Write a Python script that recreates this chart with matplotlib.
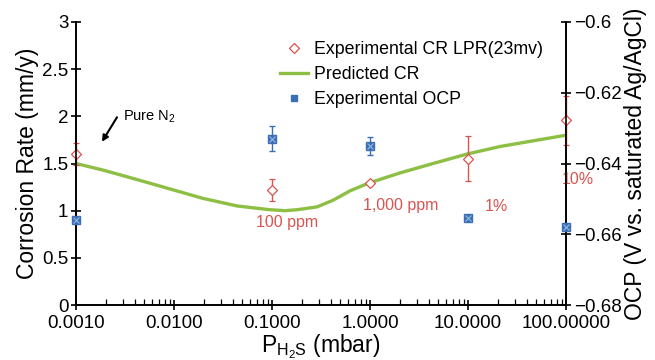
import numpy as np
import matplotlib
matplotlib.use('Agg')
import matplotlib.pyplot as plt
from matplotlib.ticker import FixedLocator, FixedFormatter, LogLocator, NullFormatter

plt.rcParams['font.family'] = ['Liberation Sans', 'DejaVu Sans']
plt.rcParams['mathtext.fontset'] = 'custom'
plt.rcParams['mathtext.rm'] = 'Liberation Sans'
plt.rcParams['mathtext.it'] = 'Liberation Sans'

### Data
p_exp = [0.001, 0.1, 1.0, 10.0, 100.0]
cr_lpr = [1.60, 1.22, 1.29, 1.55, 1.96]
cr_err = [0.12, 0.12, 0.02, 0.24, 0.26]
ocp = [-0.656, -0.633, -0.635, -0.6554, -0.658]
ocp_err = [0.0008, 0.0035, 0.0025, 0.0008, 0.0008]

p_pred = [0.001, 0.00189, 0.00419, 0.0091, 0.0198, 0.044, 0.095, 0.136, 0.180,
          0.288, 0.419, 0.625, 0.955, 2.02, 4.40, 9.77, 21.2, 46.0, 100.0]
cr_pred = [1.50, 1.43, 1.33, 1.23, 1.13, 1.05, 1.01, 1.00, 1.01,
           1.04, 1.11, 1.21, 1.29, 1.40, 1.50, 1.60, 1.68, 1.74, 1.80]

xticks = [0.001, 0.01, 0.1, 1, 10, 100]
xlabels = ['0.0010', '0.0100', '0.1000', '1.0000', '10.0000', '100.00000']

red = '#d9534f'
blue = '#3a6eb5'
green = '#8dbf45'

fig = plt.figure(figsize=(6.55, 3.6), dpi=100)
ax = fig.add_axes([76/655, 55/360, 490/655, 283/360])
ax2 = ax.twinx()

ax.plot(p_pred, cr_pred, color=green, lw=2.4, label='Predicted CR', zorder=2)
ax.errorbar(p_exp, cr_lpr, yerr=cr_err, fmt='D', ms=5, mfc='white', mec=red, mew=0.9,
            ecolor=red, elinewidth=1.0, capsize=2, capthick=1.0, zorder=3, clip_on=False)
ax2.errorbar(p_exp, ocp, yerr=ocp_err, fmt='s', ms=5.5, color=blue, mec=blue,
             ecolor=blue, elinewidth=1.0, capsize=2, capthick=1.0, zorder=3, clip_on=False)
ax2.plot(p_exp, ocp, 'x', ms=4, color='#9ab8e0', mew=0.8, zorder=4, clip_on=False)

ax.set_xscale('log')
ax.set_xlim(0.001, 100)
ax.set_ylim(0, 3)
ax2.set_ylim(-0.68, -0.6)

ax.xaxis.set_major_locator(FixedLocator(xticks))
ax.xaxis.set_major_formatter(FixedFormatter(xlabels))
ax.xaxis.set_minor_locator(LogLocator(base=10, subs=np.arange(2, 10)))
ax.xaxis.set_minor_formatter(NullFormatter())
ax.set_yticks([0, 0.5, 1, 1.5, 2, 2.5, 3])
ax.set_yticklabels(['0', '0.5', '1', '1.5', '2', '2.5', '3'])
ax2.set_yticks([-0.68, -0.66, -0.64, -0.62, -0.6])
ax2.set_yticklabels(['\u22120.68', '\u22120.66', '\u22120.64', '\u22120.62', '\u22120.6'])

for a in (ax, ax2):
    for s in a.spines.values():
        s.set_linewidth(1.2)
ax.spines['top'].set_visible(False)
ax2.spines['top'].set_visible(False)
ax.tick_params(axis='y', which='major', direction='inout', length=7, width=1.2, labelsize=13.5, pad=2)
ax.tick_params(axis='x', which='major', direction='inout', length=7, width=1.2, labelsize=13.5, pad=4)
ax.tick_params(axis='x', which='minor', direction='in', length=4, width=0.9)
ax2.tick_params(axis='y', which='major', direction='inout', length=7, width=1.2, labelsize=13.5, pad=2)

ax.set_ylabel('Corrosion Rate (mm/y)', fontsize=16.5, labelpad=2)
ax.set_xlabel(r'P$_{\mathrm{H_2S}}$ (mbar)', fontsize=16.5, labelpad=0)
ax2.set_ylabel('OCP (V vs. saturated Ag/AgCl)', fontsize=16.5, labelpad=2)

# legend
h1 = ax.plot([], [], 'D', ms=5, mfc='white', mec=red, mew=0.9, ls='none')[0]
h2 = ax.plot([], [], color=green, lw=2.4)[0]
h3 = ax.plot([], [], 's', ms=5, color=blue, ls='none')[0]
ax.legend([h1, h2, h3], ['Experimental CR LPR(23mv)', 'Predicted CR', 'Experimental OCP'],
          loc='upper left', bbox_to_anchor=(280/655, 1 - 41/360), bbox_transform=fig.transFigure,
          frameon=False, fontsize=12.8, handlelength=1.6, handletextpad=0.3, labelspacing=0.45,
          borderaxespad=0, borderpad=0)

# annotations
ax.annotate('', xy=(0.00184, 1.73), xytext=(0.00262, 1.99),
            arrowprops=dict(arrowstyle='-|>', color='black', lw=1.5, mutation_scale=9,
                            shrinkA=0, shrinkB=0))
ax.text(0.0030, 2.0, r'Pure N$_2$', fontsize=10.5, ha='left', va='center')
ax.text(0.144, 0.87, '100 ppm', color=red, fontsize=11.5, ha='center', va='center')
ax.text(2.08, 1.06, '1,000 ppm', color=red, fontsize=11.5, ha='center', va='center')
ax.text(19.6, 1.04, '1%', color=red, fontsize=11.5, ha='center', va='center')
ax.text(133, 1.33, '10%', color=red, fontsize=11.5, ha='center', va='center')

fig.savefig('out.png', dpi=100)
